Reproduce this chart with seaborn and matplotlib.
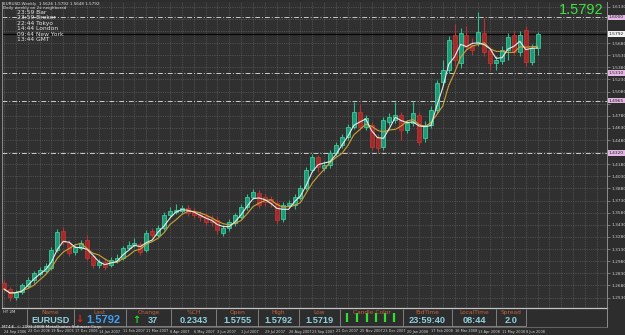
import numpy as np
import pandas as pd
import matplotlib
matplotlib.use('Agg')
import matplotlib.pyplot as plt
import matplotlib.transforms as mtransforms
import seaborn as sns

# ---------------------------------------------------------------------------
# EURUSD weekly candles (one entry per week)
# ---------------------------------------------------------------------------
opens = [1.2711, 1.2636, 1.2537, 1.2599, 1.2673, 1.2748, 1.2822, 1.2859, 1.2896, 1.3119,
         1.3354, 1.3206, 1.3094, 1.3144, 1.3243, 1.3045, 1.2933, 1.2970, 1.2933, 1.2983,
         1.3020, 1.3144, 1.3181, 1.3193, 1.3119, 1.3354, 1.3305, 1.3391, 1.3552, 1.3589,
         1.3602, 1.3639, 1.3589, 1.3565, 1.3540, 1.3503, 1.3490, 1.3329, 1.3391, 1.3453,
         1.3527, 1.3651, 1.3775, 1.3824, 1.3775, 1.3750, 1.3701, 1.3503, 1.3676, 1.3676,
         1.3763, 1.3886, 1.4109, 1.4270, 1.4134, 1.4171, 1.4319, 1.4418, 1.4517, 1.4641,
         1.4827, 1.4641, 1.4666, 1.4517, 1.4394, 1.4703, 1.4728, 1.4790, 1.4604, 1.4691,
         1.4790, 1.4505, 1.4666, 1.4852, 1.5198, 1.5347, 1.5780, 1.5433, 1.5780, 1.5656,
         1.5693, 1.5805, 1.5594, 1.5433, 1.5458, 1.5594, 1.5780, 1.5569, 1.5842, 1.5446,
         1.5619]
highs = [1.2748, 1.2661, 1.2624, 1.2711, 1.2785, 1.2859, 1.2909, 1.2958, 1.3156, 1.3379,
         1.3404, 1.3243, 1.3181, 1.3243, 1.3305, 1.3070, 1.3008, 1.3020, 1.3032, 1.3070,
         1.3169, 1.3230, 1.3268, 1.3218, 1.3367, 1.3391, 1.3428, 1.3589, 1.3651, 1.3688,
         1.3676, 1.3676, 1.3639, 1.3602, 1.3577, 1.3552, 1.3540, 1.3428, 1.3503, 1.3577,
         1.3688, 1.3812, 1.3874, 1.3862, 1.3812, 1.3787, 1.3738, 1.3713, 1.3738, 1.3812,
         1.3923, 1.4146, 1.4307, 1.4295, 1.4220, 1.4357, 1.4456, 1.4555, 1.4678, 1.4951,
         1.4926, 1.4790, 1.4703, 1.4555, 1.4765, 1.4815, 1.4951, 1.4827, 1.4728, 1.4963,
         1.4827, 1.4716, 1.4901, 1.5223, 1.5470, 1.5767, 1.5916, 1.5866, 1.5891, 1.5743,
         1.6064, 1.5990, 1.5631, 1.5520, 1.5644, 1.5805, 1.5829, 1.5829, 1.5891, 1.5668,
         1.5817]
lows = [1.2599, 1.2488, 1.2500, 1.2574, 1.2649, 1.2711, 1.2797, 1.2834, 1.2871, 1.3094,
        1.3181, 1.3045, 1.3057, 1.3119, 1.2995, 1.2896, 1.2896, 1.2871, 1.2909, 1.2958,
        1.2995, 1.3119, 1.3156, 1.3057, 1.3094, 1.3268, 1.3280, 1.3367, 1.3527, 1.3565,
        1.3577, 1.3540, 1.3515, 1.3478, 1.3428, 1.3416, 1.3317, 1.3292, 1.3354, 1.3416,
        1.3503, 1.3614, 1.3750, 1.3639, 1.3664, 1.3651, 1.3441, 1.3466, 1.3639, 1.3626,
        1.3738, 1.3862, 1.4084, 1.4084, 1.4097, 1.4134, 1.4282, 1.4381, 1.4480, 1.4616,
        1.4604, 1.4604, 1.4357, 1.4332, 1.4357, 1.4666, 1.4691, 1.4480, 1.4567, 1.4654,
        1.4418, 1.4456, 1.4629, 1.4815, 1.5161, 1.5310, 1.5396, 1.5371, 1.5594, 1.5532,
        1.5644, 1.5520, 1.5347, 1.5347, 1.5421, 1.5470, 1.5532, 1.5520, 1.5396, 1.5409,
        1.5532]
closes = [1.2636, 1.2537, 1.2599, 1.2686, 1.2748, 1.2834, 1.2871, 1.2921, 1.3119, 1.3342,
          1.3218, 1.3082, 1.3156, 1.3206, 1.3020, 1.2933, 1.2970, 1.2909, 1.2995, 1.3020,
          1.3144, 1.3181, 1.3206, 1.3094, 1.3329, 1.3305, 1.3391, 1.3552, 1.3602, 1.3614,
          1.3639, 1.3577, 1.3552, 1.3527, 1.3466, 1.3466, 1.3367, 1.3391, 1.3466, 1.3552,
          1.3651, 1.3775, 1.3837, 1.3676, 1.3713, 1.3701, 1.3490, 1.3676, 1.3701, 1.3775,
          1.3886, 1.4109, 1.4270, 1.4146, 1.4171, 1.4319, 1.4418, 1.4517, 1.4641, 1.4827,
          1.4641, 1.4753, 1.4394, 1.4381, 1.4728, 1.4765, 1.4790, 1.4604, 1.4691, 1.4815,
          1.4456, 1.4666, 1.4852, 1.5186, 1.5347, 1.5718, 1.5470, 1.5805, 1.5631, 1.5594,
          1.5817, 1.5569, 1.5433, 1.5470, 1.5594, 1.5755, 1.5569, 1.5780, 1.5446, 1.5619,
          1.5792]

date_labels = ['24 Sep 2006', '22 Oct 2006', '19 Nov 2006', '17 Dec 2006', '14 Jan 2007',
               '11 Feb 2007', '11 Mar 2007', '8 Apr 2007', '6 May 2007', '3 Jun 2007',
               '1 Jul 2007', '29 Jul 2007', '26 Aug 2007', '23 Sep 2007', '21 Oct 2007',
               '25 Nov 2007', '23 Dec 2007', '20 Jan 2008', '17 Feb 2008', '16 Mar 2008',
               '13 Apr 2008', '11 May 2008', '8 Jun 2008']

price_ticks = [1.2530, 1.2680, 1.2830, 1.2980, 1.3130, 1.3280, 1.3430, 1.3580, 1.3730,
               1.3880, 1.4030, 1.4180, 1.4330, 1.4480, 1.4630, 1.4780, 1.4930, 1.5080,
               1.5230, 1.5380, 1.5530, 1.5680, 1.5830, 1.5980, 1.6130]

levels = [1.6000, 1.5310, 1.4965, 1.4320]
bid = 1.5792

header_lines = ['EURUSD,Weekly  1.5626 1.5792 1.5648 1.5792',
                'Daily weekly on 2x neighbored']
clock_lines = ['23:59 Bar', '23:59 Broker', '22:44 Tokyo', '14:44 London',
               '09:44 New York', '13:44 GMT']

info_headers = ['Name', 'Last', 'Change', '%CH', 'Open', 'High', 'Low',
                'Candle Color', 'BidTime', 'LocalTime', 'Spread']
info_values = ['EURUSD', '1.5792', '37', '0.2343', '1.5755', '1.5792', '1.5719',
               '', '23:59:40', '08:44', '2.0']

# ---------------------------------------------------------------------------
# Styling
# ---------------------------------------------------------------------------
BG = '#303030'
sns.set_theme(style='dark', rc={'axes.facecolor': BG, 'figure.facecolor': '#2d2d2d',
                                'axes.edgecolor': '#9a9a9a'})
plt.rcParams['font.family'] = ['DejaVu Sans']

df = pd.DataFrame({'open': opens, 'high': highs, 'low': lows, 'close': closes})
df['bar'] = np.arange(len(df))
df['ma_fast'] = df['close'].rolling(3, min_periods=1).mean()
df['ma_slow'] = df['close'].rolling(5, min_periods=1).mean()
bull = df['close'] >= df['open']

W, H = 625, 335
fig = plt.figure(figsize=(W / 100, H / 100), dpi=100)
ax = fig.add_axes([2 / W, 1 - 308 / H, 605 / W, 306 / H])

# candles
wick_col = np.where(bull, '#2fbf8c', '#b83434')
ax.vlines(df['bar'], df['low'], df['high'], colors=wick_col, linewidth=0.8, zorder=2)
body_lo = np.minimum(df['open'], df['close'])
body_h = np.maximum((df['close'] - df['open']).abs(), 0.0004)
ax.bar(df['bar'][bull], body_h[bull], bottom=body_lo[bull], width=0.68,
       color='#1e9a76', edgecolor='#48d8aa', linewidth=0.5, zorder=3)
ax.bar(df['bar'][~bull], body_h[~bull], bottom=body_lo[~bull], width=0.68,
       color='#a62a2a', edgecolor='#c23a3a', linewidth=0.5, zorder=3)

# moving averages
sns.lineplot(data=df, x='bar', y='ma_slow', color='#cfa236', linewidth=0.8, ax=ax, zorder=4)
sns.lineplot(data=df, x='bar', y='ma_fast', color='#e2efe8', linewidth=0.8, ax=ax, zorder=5)

ax.set_xlim(-0.34, 101.7)
ax.set_ylim(1.2401, 1.6188)
ax.set_xlabel('')
ax.set_ylabel('')

# grid
ax.set_xticks(np.arange(0, 102, 2))
ax.set_xticklabels([])
ax.tick_params(axis='x', length=0)
ax.yaxis.tick_right()
ax.set_yticks(price_ticks)
marked = levels + [bid]
ax.set_yticklabels(['' if min(abs(v - m) for m in marked) < 0.007 else f'{v:.4f}'
                    for v in price_ticks])
ax.tick_params(axis='y', length=2, width=0.5, color='#9a9a9a', labelsize=3.2,
               labelcolor='#cfcfcf', pad=1)
ax.grid(True, color='#6a6a6a', linestyle=(0, (1, 1.6)), linewidth=0.5)
ax.spines['top'].set_visible(False)
ax.spines['bottom'].set_color('#c4c4c4')
ax.spines['bottom'].set_linewidth(0.9)
for s in ('left', 'right'):
    ax.spines[s].set_color('#8c8c8c')
    ax.spines[s].set_linewidth(0.7)

right_tr = mtransforms.blended_transform_factory(ax.transAxes, ax.transData)
for lv in levels:
    ax.axhline(lv, color='#cccccc', linewidth=0.7, linestyle=(0, (5, 2, 1, 2)), zorder=1)
    ax.text(1.003, lv, f'{lv:.4f}', transform=right_tr, fontsize=3.2, color='#202020',
            va='center', ha='left', clip_on=False,
            bbox=dict(boxstyle='square,pad=0.15', fc='#e4b6e4', ec='none'))
ax.axhline(bid, color='#050505', linewidth=0.9, zorder=1)
ax.text(1.003, bid, f'{bid:.4f}', transform=right_tr, fontsize=3.2, color='#202020',
        va='center', ha='left', clip_on=False,
        bbox=dict(boxstyle='square,pad=0.15', fc='#f2f2f2', ec='none'))

# date labels under the chart
date_tr = mtransforms.blended_transform_factory(ax.transData, fig.transFigure)
for k, lab in enumerate(date_labels):
    ax.text(k * 4, 1 - 331.5 / H, lab, transform=date_tr, fontsize=2.5,
            color='#d2d2d2', ha='left', va='center', clip_on=False)

# ---------------------------------------------------------------------------
# Overlay in pixel coordinates: header texts, info panel
# ---------------------------------------------------------------------------
ov = fig.add_axes([0, 0, 1, 1], zorder=10)
ov.set_xlim(0, W)
ov.set_ylim(H, 0)
ov.axis('off')
ov.patch.set_alpha(0)

ov.text(3, 3.5, header_lines[0], fontsize=3, color='#e0e0e0', va='center')
ov.text(3, 7.5, header_lines[1], fontsize=3, color='#e0e0e0', va='center')
for k, line in enumerate(clock_lines):
    ov.text(17, 12 + 5.5 * k, line, fontsize=4.3, color='#e6e6e6', va='center')

ov.text(604, 10, '1.5792', fontsize=10.5, color='#3fe23f', ha='right', va='center',
        family=['Liberation Sans', 'DejaVu Sans'])

# indicator sub-window
ov.text(3, 312, 'HT 2M', fontsize=2.8, color='#e0e0e0', va='center')
ov.plot([607, 607], [308, 327], color='#8c8c8c', linewidth=0.7)
ov.plot([0, 607], [327, 327], color='#7a7a7a', linewidth=0.5)

seps = [27, 74, 126, 171, 216, 258, 299, 340, 403, 452, 496, 526]
ov.vlines(seps, 308.5, 325.5, colors='#8c8c8c', linewidth=0.6)
ov.plot([27, 526], [325.5, 325.5], color='#8c8c8c', linewidth=0.6)

for k, (hd, val) in enumerate(zip(info_headers, info_values)):
    cx = (seps[k] + seps[k + 1]) / 2
    ov.text(cx, 312.8, hd, fontsize=4.2, color='#c4643c', ha='center', va='center')
    if k == 1:
        ov.text(cx + 3, 320.3, val, fontsize=8, color='#3d9ff5', ha='center', va='center',
                weight='bold', family=['Liberation Sans', 'DejaVu Sans'])
        ov.text(seps[k] + 5, 319, '↓', fontsize=7, color='#e82020', ha='center',
                va='center', weight='bold')
    elif k == 2:
        ov.text(cx + 4, 320.3, val, fontsize=6.6, color='#8fd2e2', ha='center',
                va='center', weight='bold', family=['Liberation Sans', 'DejaVu Sans'])
        ov.text(seps[k] + 10, 320.3, '↑', fontsize=7, color='#22e022', ha='center',
                va='center', weight='bold')
    elif val:
        ov.text(cx, 320.3, val, fontsize=6.6, color='#8fd2e2', ha='center', va='center',
                weight='bold', family=['Liberation Sans', 'DejaVu Sans'])

# candle colour strip in its cell
ov.vlines([347, 357, 367, 376, 385, 394], 313, 322, colors='#2ee02e', linewidth=1.6)

ov.text(2, 327.3, 'MT4iE, © 2001-2008 MetaQuotes Software Corp.', fontsize=3,
        color='#f0f0f0', va='center')

fig.savefig('out.png', dpi=100, facecolor=fig.get_facecolor())
